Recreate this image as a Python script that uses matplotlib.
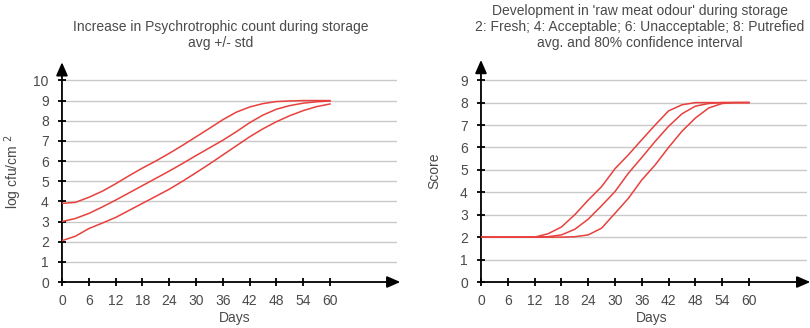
import numpy as np
import matplotlib
matplotlib.use('Agg')
import matplotlib.pyplot as plt

plt.rcParams['font.family'] = ['Liberation Sans', 'DejaVu Sans']

# days sampled every 3 days
days = [0, 3, 6, 9, 12, 15, 18, 21, 24, 27, 30, 33, 36, 39, 42, 45, 48, 51, 54, 57, 60]

# psychrotrophic count, log cfu/cm2 (avg +/- std)
count_low = [2.05, 2.27, 2.65, 2.92, 3.2, 3.55, 3.9, 4.25, 4.6, 5.0, 5.42, 5.85, 6.3,
             6.75, 7.2, 7.6, 7.95, 8.25, 8.5, 8.7, 8.83]
count_avg = [3.0, 3.15, 3.4, 3.72, 4.06, 4.42, 4.78, 5.14, 5.5, 5.88, 6.27, 6.65, 7.03,
             7.45, 7.9, 8.28, 8.57, 8.75, 8.87, 8.94, 8.98]
count_high = [3.9, 3.95, 4.2, 4.5, 4.87, 5.27, 5.65, 6.0, 6.38, 6.78, 7.2, 7.62, 8.05,
              8.42, 8.68, 8.85, 8.95, 8.98, 9.0, 9.0, 9.0]

# raw meat odour score (avg and 80% CI)
odour_early = [2, 2, 2, 2, 2.0, 2.15, 2.45, 3.0, 3.65, 4.25, 5.05, 5.67, 6.34, 7.0, 7.63,
               7.9, 8.0, 8.0, 8.0, 8.0, 8.0]
odour_avg = [2, 2, 2, 2, 2, 2.02, 2.1, 2.35, 2.8, 3.4, 4.03, 4.85, 5.55, 6.27, 6.94,
             7.5, 7.84, 7.96, 8.0, 8.0, 8.0]
odour_late = [2, 2, 2, 2, 2, 2, 2, 2.02, 2.1, 2.4, 3.06, 3.73, 4.55, 5.22, 6.0, 6.72,
              7.31, 7.76, 7.96, 8.0, 8.0]

red = '#e8403c'
txt = '#4a4a4a'
fs = 10


def setup(ax, xmax, ymax, ytop):
    ax.set_xlim(0, xmax)
    ax.set_ylim(0, ytop)
    for s in ax.spines.values():
        s.set_visible(False)
    for v in range(1, ymax + 1):
        ax.axhline(v, color='#c9c9c9', lw=1.0, zorder=1)
    ax.set_xticks(range(0, 61, 6))
    ax.set_yticks(range(0, ymax + 1))
    ax.tick_params(direction='inout', length=6, width=1.3, colors='black',
                   labelcolor=txt, labelsize=fs)
    ax.tick_params(axis='y', pad=6.5)
    ax.tick_params(axis='x', pad=5.5)
    # axis lines with arrow heads
    ax.annotate('', xy=(1.01, 0), xytext=(0, 0), xycoords='axes fraction',
                arrowprops=dict(arrowstyle='-|>,head_length=0.8,head_width=0.35',
                                color='black', lw=1.3, shrinkA=0, shrinkB=0))
    ax.annotate('', xy=(0, 1.0), xytext=(0, 0), xycoords='axes fraction',
                arrowprops=dict(arrowstyle='-|>,head_length=0.8,head_width=0.35',
                                color='black', lw=1.3, shrinkA=0, shrinkB=0))
    ax.set_xlabel('Days', color=txt, fontsize=fs)


fig = plt.figure(figsize=(8.1, 3.28), dpi=100)

ax1 = fig.add_axes([0.0765, 0.1402, 0.4136, 0.67])
setup(ax1, 75, 10, 10.9)
for y in (count_low, count_avg, count_high):
    ax1.plot(days, y, color=red, lw=1.1, zorder=3)
ax1.set_ylabel('log cfu/cm $^2$', color=txt, fontsize=fs)
ax1.xaxis.set_label_coords(0.516, -0.13)
ax1.yaxis.set_label_coords(-0.113, 0.5)
fig.text(0.272, 0.893, 'Increase in Psychrotrophic count during storage\navg +/- std',
         ha='center', va='center', color=txt, fontsize=fs, linespacing=1.15)

ax2 = fig.add_axes([0.5938, 0.1402, 0.4025, 0.677])
setup(ax2, 73, 9, 9.9)
for y in (odour_early, odour_avg, odour_late):
    ax2.plot(days, y, color=red, lw=1.1, zorder=3)
ax2.set_ylabel('Score', color=txt, fontsize=fs)
ax2.xaxis.set_label_coords(0.525, -0.13)
ax2.yaxis.set_label_coords(-0.123, 0.5)
fig.text(0.79, 0.918, "Development in 'raw meat odour' during storage\n"
         "2: Fresh; 4: Acceptable; 6: Unacceptable; 8: Putrefied\n"
         "avg. and 80% confidence interval",
         ha='center', va='center', color=txt, fontsize=fs, linespacing=1.15)

fig.savefig('out.png', dpi=100, facecolor='white')
